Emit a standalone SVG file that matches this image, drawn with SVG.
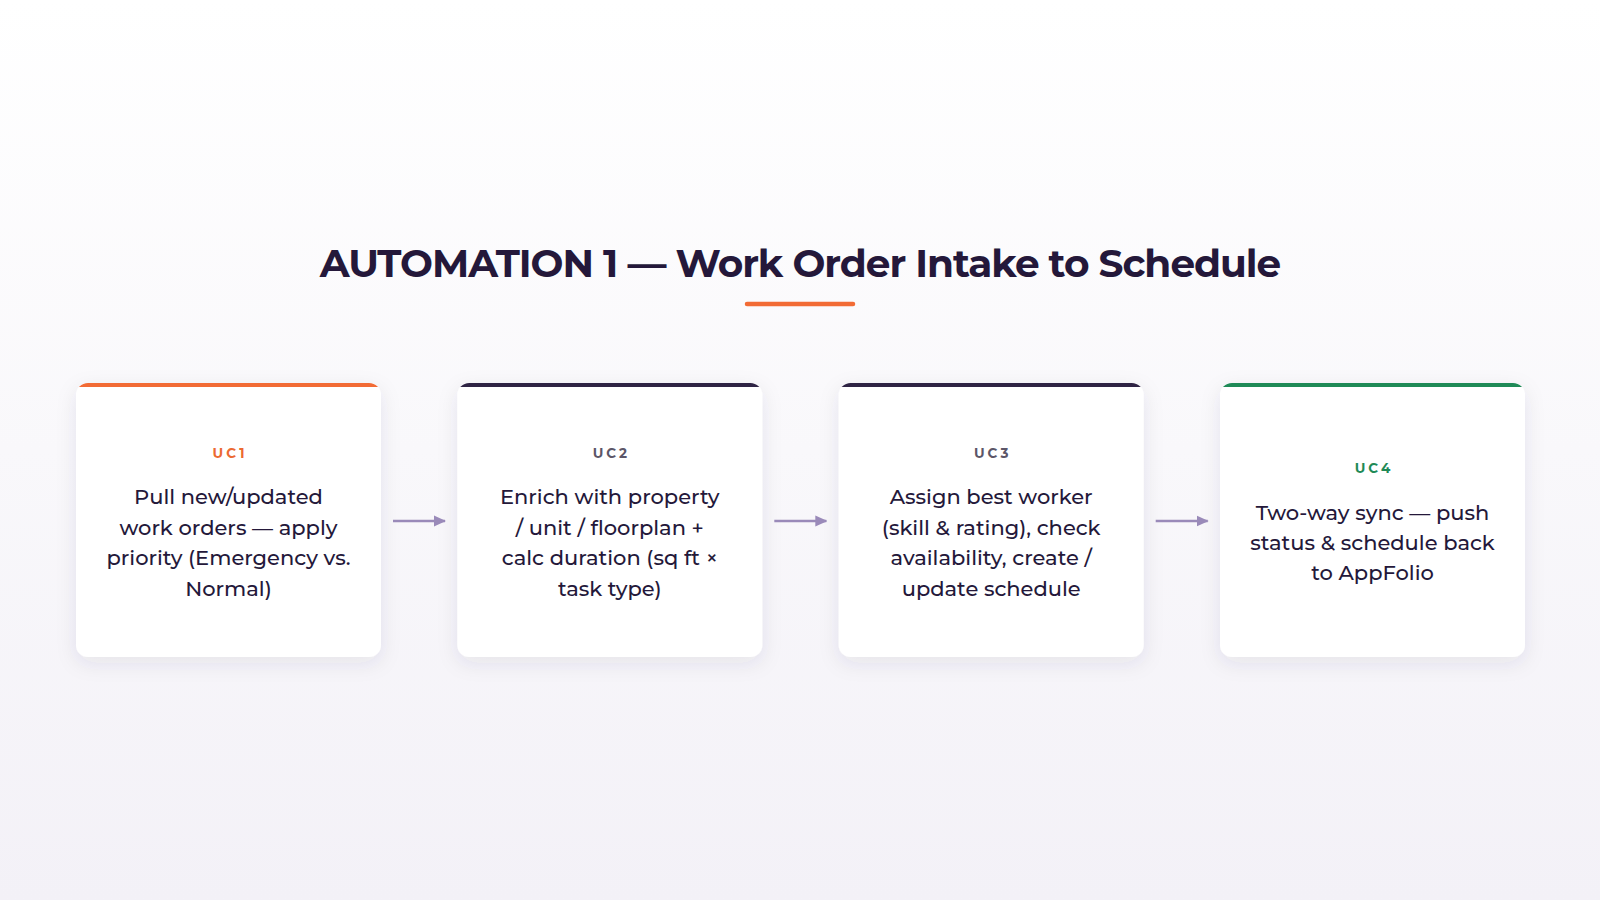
<svg xmlns="http://www.w3.org/2000/svg" width="1600" height="900" viewBox="0 0 1600 900">
  <defs>
    <linearGradient id="bg" x1="0" y1="0" x2="0" y2="1">
      <stop offset="0" stop-color="#ffffff"/>
      <stop offset="1" stop-color="#f3f1f7"/>
    </linearGradient>
    <filter id="shadow" x="-20%" y="-20%" width="140%" height="150%">
      <feDropShadow dx="0" dy="6" stdDeviation="10" flood-color="#3a2a5a" flood-opacity="0.09"/>
    </filter>
    <clipPath id="c1"><rect x="76" y="383" width="305" height="274" rx="12"/></clipPath>
    <clipPath id="c2"><rect x="457.3" y="383" width="305" height="274" rx="12"/></clipPath>
    <clipPath id="c3"><rect x="838.7" y="383" width="305" height="274" rx="12"/></clipPath>
    <clipPath id="c4"><rect x="1220" y="383" width="305" height="274" rx="12"/></clipPath>
    <marker id="arrow" viewBox="0 0 12 12" refX="11" refY="6" markerWidth="12" markerHeight="12" markerUnits="userSpaceOnUse" orient="auto">
      <path d="M0,0.5 L12,6 L0,11.5 Z" fill="#9a8ab9"/>
    </marker>
  </defs>
  <style>
    .title { font-family: Montserrat, "Open Sans", "Liberation Sans", sans-serif; font-weight: 700; font-size: 39px; letter-spacing: -1px; fill: #24183a; }
    .card { fill: #ffffff; }
    .label { font-family: Montserrat, "Open Sans", "Liberation Sans", sans-serif; font-weight: 700; font-size: 13.5px; letter-spacing: 3px; text-anchor: middle; }
    .body { font-family: Montserrat, "Open Sans", "Liberation Sans", sans-serif; font-weight: 500; font-size: 21px; fill: #24183a; text-anchor: middle; }
    .conn { stroke: #9a8ab9; stroke-width: 2.5; fill: none; }
  </style>

  <rect x="0" y="0" width="1600" height="900" fill="url(#bg)"/>

  <g id="title">
    <text class="title" x="800" y="277" text-anchor="middle">AUTOMATION 1 — Work Order Intake to Schedule</text>
    <line x1="747" y1="304" x2="853" y2="304" stroke="#f26b35" stroke-width="4.5" stroke-linecap="round"/>
  </g>

  <g id="uc1">
    <rect class="card" x="76" y="383" width="305" height="274" rx="12" filter="url(#shadow)"/>
    <rect x="76" y="383" width="305" height="4" fill="#f26b35" clip-path="url(#c1)"/>
    <text class="label" x="230" y="458" fill="#ec6a32">UC1</text>
    <text class="body" x="228.5" y="504">Pull new/updated</text>
    <text class="body" x="228.5" y="534.5">work orders — apply</text>
    <text class="body" x="228.5" y="565">priority (Emergency vs.</text>
    <text class="body" x="228.5" y="595.5">Normal)</text>
  </g>

  <g id="uc2">
    <rect class="card" x="457.3" y="383" width="305" height="274" rx="12" filter="url(#shadow)"/>
    <rect x="457.3" y="383" width="305" height="4" fill="#2f2444" clip-path="url(#c2)"/>
    <text class="label" x="611.3" y="458" fill="#5c5668">UC2</text>
    <text class="body" x="609.8" y="504">Enrich with property</text>
    <text class="body" x="609.8" y="534.5">/ unit / floorplan +</text>
    <text class="body" x="609.8" y="565">calc duration (sq ft ×</text>
    <text class="body" x="609.8" y="595.5">task type)</text>
  </g>

  <g id="uc3">
    <rect class="card" x="838.7" y="383" width="305" height="274" rx="12" filter="url(#shadow)"/>
    <rect x="838.7" y="383" width="305" height="4" fill="#2f2444" clip-path="url(#c3)"/>
    <text class="label" x="992.7" y="458" fill="#5c5668">UC3</text>
    <text class="body" x="991.2" y="504">Assign best worker</text>
    <text class="body" x="991.2" y="534.5">(skill &amp; rating), check</text>
    <text class="body" x="991.2" y="565">availability, create /</text>
    <text class="body" x="991.2" y="595.5">update schedule</text>
  </g>

  <g id="uc4">
    <rect class="card" x="1220" y="383" width="305" height="274" rx="12" filter="url(#shadow)"/>
    <rect x="1220" y="383" width="305" height="4" fill="#1f8a57" clip-path="url(#c4)"/>
    <text class="label" x="1374" y="473" fill="#1f8a57">UC4</text>
    <text class="body" x="1372.5" y="520">Two-way sync — push</text>
    <text class="body" x="1372.5" y="550">status &amp; schedule back</text>
    <text class="body" x="1372.5" y="580">to AppFolio</text>
  </g>

  <g id="connectors">
    <line class="conn" x1="393" y1="521" x2="445" y2="521" marker-end="url(#arrow)"/>
    <line class="conn" x1="774.3" y1="521" x2="826.3" y2="521" marker-end="url(#arrow)"/>
    <line class="conn" x1="1155.7" y1="521" x2="1207.7" y2="521" marker-end="url(#arrow)"/>
  </g>
</svg>
